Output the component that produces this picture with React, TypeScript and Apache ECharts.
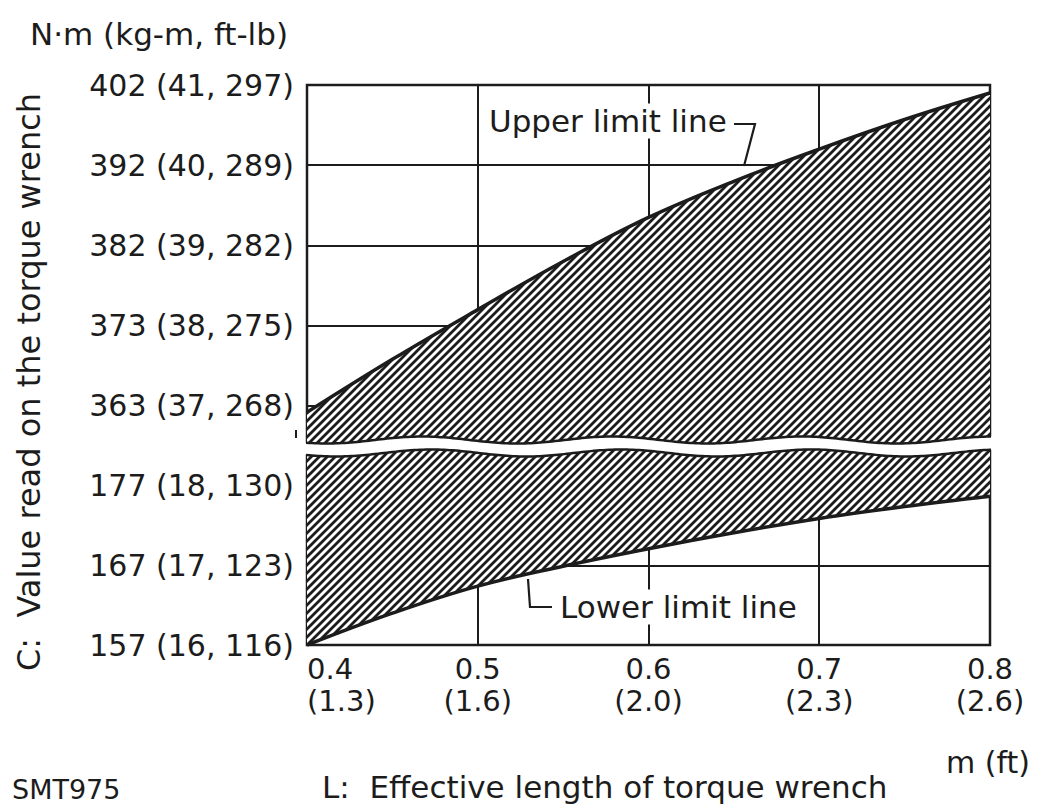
import React, { useEffect, useRef } from 'react';
import * as echarts from 'echarts';

// ---- data (kg-m is the linear scale of the chart) ----
const lengthsM = [0.4, 0.45, 0.5, 0.55, 0.6, 0.65, 0.7, 0.75, 0.8];
const upperLimitKgm = [36.92, 37.58, 38.2, 38.8, 39.35, 39.8, 40.2, 40.57, 40.9];
const lowerLimitKgm = [16.0, 16.4, 16.74, 16.99, 17.21, 17.41, 17.59, 17.74, 17.87];

const xTickM = [0.4, 0.5, 0.6, 0.7, 0.8];
const xTickFt = ['1.3', '1.6', '2.0', '2.3', '2.6'];

const upperTickKgm = [37, 38, 39, 40, 41];
const upperTickNm = [363, 373, 382, 392, 402];
const upperTickFtlb = [268, 275, 282, 289, 297];

const lowerTickKgm = [16, 17, 18];
const lowerTickNm = [157, 167, 177];
const lowerTickFtlb = [116, 123, 130];

const FONT = '"DejaVu Sans", sans-serif';
const INK = '#1c1c1c';

function makeHatch() {
  const c = document.createElement('canvas');
  c.width = 8;
  c.height = 8;
  const ctx = c.getContext('2d')!;
  ctx.fillStyle = '#ffffff';
  ctx.fillRect(0, 0, 8, 8);
  ctx.strokeStyle = '#1c1c1c';
  ctx.lineWidth = 2.8;
  ctx.beginPath();
  ctx.moveTo(-2, 10); ctx.lineTo(10, -2);
  ctx.moveTo(-6, 6); ctx.lineTo(6, -6);
  ctx.moveTo(2, 14); ctx.lineTo(14, 2);
  ctx.stroke();
  return { image: c.toDataURL(), repeat: 'repeat', imageWidth: 8, imageHeight: 8 };
}

const tickLabel = (kgs: number[], nms: number[], fts: number[]) => (v: number) => {
  const i = kgs.findIndex((k) => Math.abs(k - v) < 1e-6);
  return i < 0 ? '' : `${nms[i]} (${kgs[i]}, ${fts[i]})`;
};

const xLabel = (v: number) => {
  const i = xTickM.findIndex((k) => Math.abs(k - v) < 1e-6);
  if (i < 0) return '';
  return `{a|${xTickM[i].toFixed(1)}}\n{a|(${xTickFt[i]})}`;
};

// decorative wavy break band
const PL = 307, PR = 990;
const waveTop = (x: number) => 440 + 3.5 * Math.sin(((x - PL) / 190) * 2 * Math.PI + 0.9);
const waveBot = (x: number) => 453 + 3.5 * Math.sin(((x - PL) / 190) * 2 * Math.PI + 0.6);

function wavePoints(f: (x: number) => number, x0: number, x1: number) {
  const pts: number[][] = [];
  for (let x = x0; x <= x1; x += 3) pts.push([x, f(x)]);
  pts.push([x1, f(x1)]);
  return pts;
}

function textEl(text: string, x: number, y: number, size: number, align = 'left', extra: any = {}) {
  return {
    type: 'text',
    x,
    y,
    z: 120,
    ...extra,
    style: {
      text,
      x: 0,
      y: 0,
      fontSize: size,
      fontFamily: FONT,
      fill: INK,
      align,
      textAlign: align,
      verticalAlign: 'middle',
      textVerticalAlign: 'middle',
      ...(extra.style || {}),
    },
  };
}

export default function App() {
  const ref = useRef<HTMLDivElement>(null);

  useEffect(() => {
    if (!ref.current) return;
    const chart = echarts.init(ref.current, null, { renderer: 'svg' });
    const hatch = makeHatch();

    const gridLine = { show: true, lineStyle: { color: INK, width: 2 } };
    const yLabelBase = { fontSize: 30, fontFamily: FONT, color: INK, margin: 13 };

    const band = [
      ...wavePoints(waveTop, 296, 1000),
      ...wavePoints(waveBot, 296, 1000).reverse(),
    ];

    const option: any = {
      animation: false,
      backgroundColor: '#ffffff',
      grid: [
        { left: PL, width: PR - PL, top: 85, height: 361, show: true, borderColor: INK, borderWidth: 2.5, backgroundColor: 'transparent' },
        { left: PL, width: PR - PL, top: 446, height: 199, show: true, borderColor: INK, borderWidth: 2.5, backgroundColor: 'transparent' },
      ],
      xAxis: [
        {
          type: 'value', gridIndex: 0, min: 0.4, max: 0.8, interval: 0.1,
          axisLine: { show: false }, axisTick: { show: false }, axisLabel: { show: false },
          splitLine: gridLine,
        },
        {
          type: 'value', gridIndex: 1, min: 0.4, max: 0.8, interval: 0.1,
          axisLine: { show: false }, axisTick: { show: false },
          axisLabel: {
            show: true, margin: 8, alignMinLabel: 'left', formatter: xLabel,
            rich: { a: { fontSize: 29, lineHeight: 32, fontFamily: FONT, color: INK } },
          },
          splitLine: gridLine,
        },
      ],
      yAxis: [
        {
          type: 'value', gridIndex: 0, min: 36.5, max: 41,
          axisLine: { show: false }, axisTick: { show: false },
          axisLabel: { ...yLabelBase, formatter: tickLabel(upperTickKgm, upperTickNm, upperTickFtlb) },
          splitLine: gridLine,
        },
        {
          type: 'value', gridIndex: 1, min: 16, max: 18.5, interval: 1,
          axisLine: { show: false }, axisTick: { show: false },
          axisLabel: { ...yLabelBase, formatter: tickLabel(lowerTickKgm, lowerTickNm, lowerTickFtlb) },
          splitLine: gridLine,
        },
      ],
      series: [
        {
          name: 'Upper limit line', type: 'line', xAxisIndex: 0, yAxisIndex: 0,
          data: lengthsM.map((x, i) => [x, upperLimitKgm[i]]),
          smooth: 0.4, symbol: 'none', z: 3,
          lineStyle: { color: INK, width: 3.5 },
          areaStyle: { color: hatch, origin: 'start', opacity: 1 },
        },
        {
          name: 'Lower limit line', type: 'line', xAxisIndex: 1, yAxisIndex: 1,
          data: lengthsM.map((x, i) => [x, lowerLimitKgm[i]]),
          smooth: 0.4, symbol: 'none', z: 3,
          lineStyle: { color: INK, width: 3.5 },
          areaStyle: { color: hatch, origin: 'end', opacity: 1 },
        },
      ],
      graphic: [
        { type: 'polygon', z: 100, shape: { points: band }, style: { fill: '#ffffff', stroke: null } },
        { type: 'polyline', z: 101, shape: { points: wavePoints(waveTop, PL - 1, PR + 1) }, style: { stroke: INK, lineWidth: 2.5, fill: null } },
        { type: 'polyline', z: 101, shape: { points: wavePoints(waveBot, PL - 1, PR + 1) }, style: { stroke: INK, lineWidth: 2.5, fill: null } },
        { type: 'line', z: 101, shape: { x1: 296, y1: 430, x2: 296, y2: 438 }, style: { stroke: INK, lineWidth: 2 } },

        // annotations
        { type: 'polyline', z: 110, shape: { points: [[734, 124], [755, 124], [744, 166]] }, style: { stroke: INK, lineWidth: 2.2, fill: null } },
        textEl('Upper limit line', 486, 121, 31, 'left', { style: { backgroundColor: '#ffffff', padding: [2, 3] } }),
        { type: 'polyline', z: 110, shape: { points: [[528, 579], [530, 607], [552, 607]] }, style: { stroke: INK, lineWidth: 2.2, fill: null } },
        textEl('Lower limit line', 557, 607, 31, 'left', { style: { backgroundColor: '#ffffff', padding: [2, 3] } }),

        // titles
        textEl('N·m (kg-m, ft-lb)', 30, 34, 31),
        textEl('C:  Value read on the torque wrench', 29, 382, 32, 'center', { rotation: Math.PI / 2 }),
        textEl('m (ft)', 1030, 762, 30, 'right'),
        textEl('L:  Effective length of torque wrench', 322, 787, 31),
        textEl('SMT975', 12, 789, 27),
      ],
    };

    chart.setOption(option);
    return () => chart.dispose();
  }, []);

  return (
    <div
      ref={ref}
      style={{ position: 'absolute', left: 0, top: 0, width: 1038, height: 807, background: '#fff' }}
    />
  );
}
